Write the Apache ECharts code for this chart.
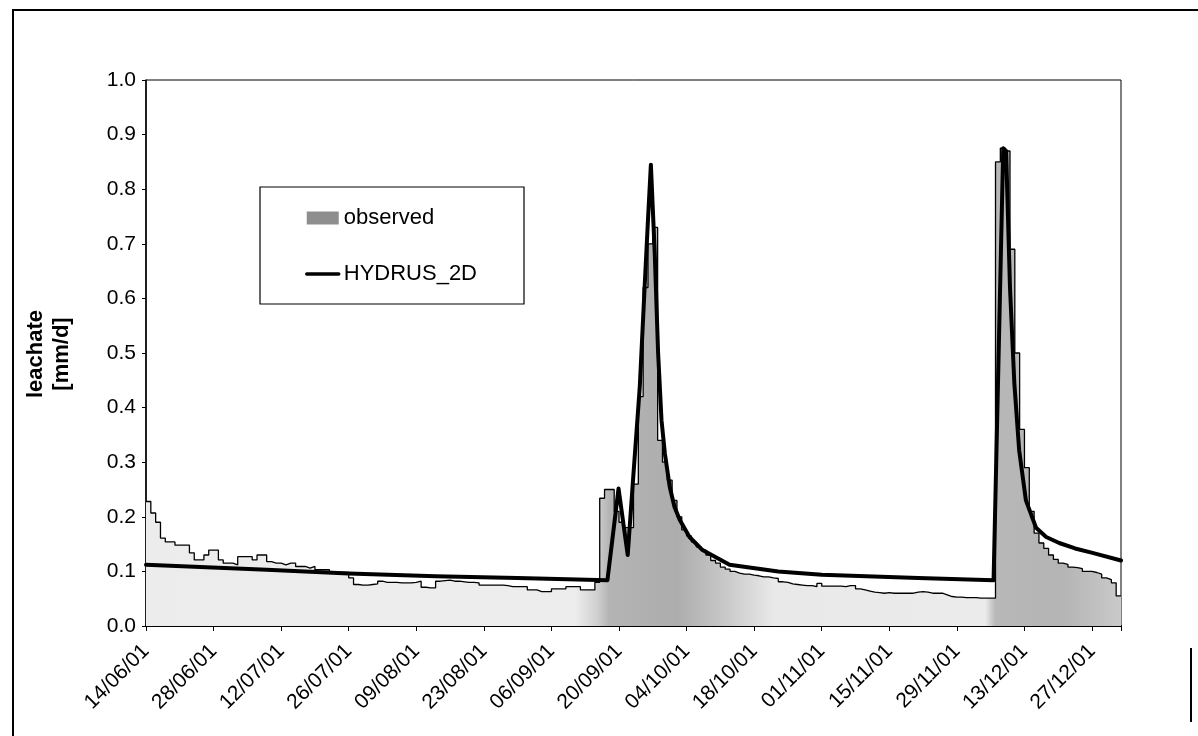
<!DOCTYPE html>
<html>
<head>
<meta charset="utf-8">
<script src="https://cdn.jsdelivr.net/npm/echarts@6/dist/echarts.min.js"></script>
<style>
  html, body { margin: 0; padding: 0; background: #fff; }
  #chart { width: 1198px; height: 736px; }
</style>
</head>
<body>
<div id="chart"></div>
<script>
// Daily leachate, 14/06/01 onwards (day 0 = 14/06/01)
const tickLabels = ['14/06/01', '28/06/01', '12/07/01', '26/07/01', '09/08/01', '23/08/01',
  '06/09/01', '20/09/01', '04/10/01', '18/10/01', '01/11/01', '15/11/01', '29/11/01',
  '13/12/01', '27/12/01'];

// observed leachate [mm/d], one value per day
const observed = [
  0.228, 0.207, 0.19, 0.161, 0.154, 0.154, 0.148, 0.148, 0.148, 0.134,
  0.121, 0.121, 0.13, 0.139, 0.139, 0.121, 0.115, 0.115, 0.112, 0.127,
  0.127, 0.127, 0.121, 0.13, 0.13, 0.118, 0.115, 0.115, 0.112, 0.115,
  0.115, 0.109, 0.109, 0.106, 0.109, 0.103, 0.103, 0.103, 0.098, 0.098,
  0.098, 0.098, 0.088, 0.076, 0.075, 0.075, 0.076, 0.077, 0.082, 0.08,
  0.08, 0.08, 0.079, 0.079, 0.079, 0.08, 0.082, 0.071, 0.07, 0.07,
  0.082, 0.083, 0.084, 0.082, 0.082, 0.081, 0.08, 0.08, 0.079, 0.075,
  0.075, 0.075, 0.075, 0.075, 0.074, 0.072, 0.072, 0.072, 0.072, 0.066,
  0.066, 0.063, 0.063, 0.063, 0.068, 0.068, 0.068, 0.072, 0.072, 0.072,
  0.066, 0.066, 0.066, 0.08, 0.234, 0.25, 0.25, 0.21, 0.19, 0.18,
  0.18, 0.26, 0.42, 0.62, 0.70, 0.73, 0.34, 0.30, 0.267, 0.23,
  0.2, 0.176, 0.165, 0.154, 0.145, 0.139, 0.13, 0.12, 0.115, 0.108,
  0.104, 0.1, 0.097, 0.095, 0.095, 0.093, 0.092, 0.09, 0.09, 0.088,
  0.087, 0.081, 0.08, 0.077, 0.076, 0.075, 0.074, 0.074, 0.072, 0.078,
  0.073, 0.073, 0.073, 0.073, 0.072, 0.074, 0.074, 0.068, 0.066, 0.064,
  0.062, 0.061, 0.06, 0.061, 0.06, 0.06, 0.06, 0.06, 0.06, 0.062,
  0.063, 0.062, 0.06, 0.06, 0.06, 0.057, 0.054, 0.053, 0.053, 0.052,
  0.052, 0.052, 0.051, 0.051, 0.051, 0.051, 0.85, 0.875, 0.87, 0.69,
  0.5, 0.36, 0.29, 0.21, 0.17, 0.152, 0.142, 0.13, 0.122, 0.115,
  0.113, 0.108, 0.107, 0.105, 0.1, 0.1, 0.098, 0.095, 0.088, 0.085,
  0.079, 0.055
];

// HYDRUS_2D simulated leachate: day number and value
const hydrusDay = [0, 25, 42, 60, 77, 95.6, 97.9, 99.8, 100.8, 102.3, 103.3, 104, 104.6,
  105.4, 106.1, 106.8, 107.5, 108.5, 109.5, 110.6, 112.6, 115.3, 120.9, 131, 140, 160,
  175.6, 177.6, 178.2, 179, 179.9, 180.9, 182.3, 184.4, 186.5, 189.2, 192.5, 196.1, 202];
const hydrusValue = [0.112, 0.103, 0.096, 0.091, 0.088, 0.084, 0.252, 0.13, 0.255, 0.438, 0.62, 0.744, 0.845,
  0.683, 0.5, 0.377, 0.316, 0.255, 0.218, 0.194, 0.163, 0.139, 0.112, 0.1, 0.094, 0.088,
  0.084, 0.875, 0.87, 0.62, 0.445, 0.322, 0.23, 0.18, 0.163, 0.152, 0.142, 0.134, 0.12];

const FONT = '"Liberation Sans", Arial, sans-serif';
const lastDay = observed.length; // the axis ends where the last daily step ends

const observedPoints = observed.map((v, i) => [i, v]);
observedPoints.push([lastDay, observed[observed.length - 1]]);
const hydrusPoints = hydrusDay.map((d, i) => [d, hydrusValue[i]]);

const chart = echarts.init(document.getElementById('chart'), null, { renderer: 'canvas' });

// stippled grey of the observed area: light over the baseflow, darker over the events
const fill = new echarts.graphic.LinearGradient(0, 0, 1, 0, [
  { offset: 0.0, color: '#ececec' },
  { offset: 0.44, color: '#ededed' },
  { offset: 0.463, color: '#cfcfcf' },
  { offset: 0.475, color: '#b4b4b4' },
  { offset: 0.545, color: '#adadad' },
  { offset: 0.594, color: '#c8c8c8' },
  { offset: 0.644, color: '#e9e9e9' },
  { offset: 0.861, color: '#ebebeb' },
  { offset: 0.871, color: '#b8b8b8' },
  { offset: 0.94, color: '#b4b4b4' },
  { offset: 1.0, color: '#cacaca' }
]);

chart.setOption({
  animation: false,
  backgroundColor: '#fff',
  grid: {
    left: 146, right: 77, top: 80, bottom: 110,
    show: true, borderColor: '#000', borderWidth: 1,
    outerBoundsMode: 'none'
  },
  legend: {
    left: 260, top: 187, orient: 'vertical',
    padding: [19, 47, 18, 45], itemGap: 32, itemWidth: 32, itemHeight: 13,
    borderColor: '#000', borderWidth: 1.2, backgroundColor: '#fff', borderRadius: 0,
    textStyle: { fontFamily: FONT, fontSize: 22, color: '#000', lineHeight: 24 },
    data: [
      { name: 'observed', icon: 'rect', itemStyle: { color: '#8e8e8e' } },
      {
        name: 'HYDRUS_2D',
        itemStyle: { opacity: 0 },
        lineStyle: { color: '#000', width: 3.5 }
      }
    ]
  },
  xAxis: {
    type: 'value', min: 0, max: lastDay, interval: 14,
    axisLine: { lineStyle: { color: '#000', width: 2 } },
    axisTick: { show: true, length: 5, lineStyle: { color: '#000', width: 1 } },
    splitLine: { show: false },
    axisLabel: {
      rotate: 45, margin: 22, fontSize: 21, fontFamily: FONT, color: '#000',
      formatter: v => {
        const i = v / 14;
        return Number.isInteger(i) && i < tickLabels.length ? tickLabels[i] : '';
      }
    }
  },
  yAxis: {
    type: 'value', min: 0, max: 1, interval: 0.1,
    axisLine: { show: true, lineStyle: { color: '#000', width: 1.5 } },
    axisTick: { show: true, length: 4, lineStyle: { color: '#000', width: 1 } },
    splitLine: { show: false },
    axisLabel: {
      margin: 10, fontSize: 21, fontFamily: FONT, color: '#000',
      formatter: v => v.toFixed(1)
    }
  },
  series: [
    {
      name: 'observed', type: 'line', step: 'end', data: observedPoints,
      symbol: 'none', showSymbol: false,
      lineStyle: { color: '#000', width: 1.3 },
      itemStyle: { color: '#8e8e8e' },
      areaStyle: { color: fill, opacity: 1 },
      z: 2
    },
    {
      name: 'HYDRUS_2D', type: 'line', data: hydrusPoints,
      symbol: 'none', showSymbol: false,
      lineStyle: { color: '#000', width: 4, join: 'round', cap: 'round' },
      itemStyle: { color: '#000' },
      z: 3
    }
  ],
  graphic: [
    {
      type: 'polyline', silent: true,
      shape: { points: [[13, 736], [13, 10], [1198, 10]] },
      style: { stroke: '#000', lineWidth: 2, fill: null }
    },
    {
      type: 'line', silent: true,
      shape: { x1: 1191, y1: 648, x2: 1191, y2: 722 },
      style: { stroke: '#000', lineWidth: 2 }
    },
    {
      type: 'text', silent: true,
      x: 49, y: 354, rotation: Math.PI / 2,
      style: {
        text: 'leachate\n[mm/d]', font: 'bold 22px ' + FONT, fill: '#000',
        align: 'center', verticalAlign: 'middle', lineHeight: 26
      }
    }
  ]
});
</script>
</body>
</html>
